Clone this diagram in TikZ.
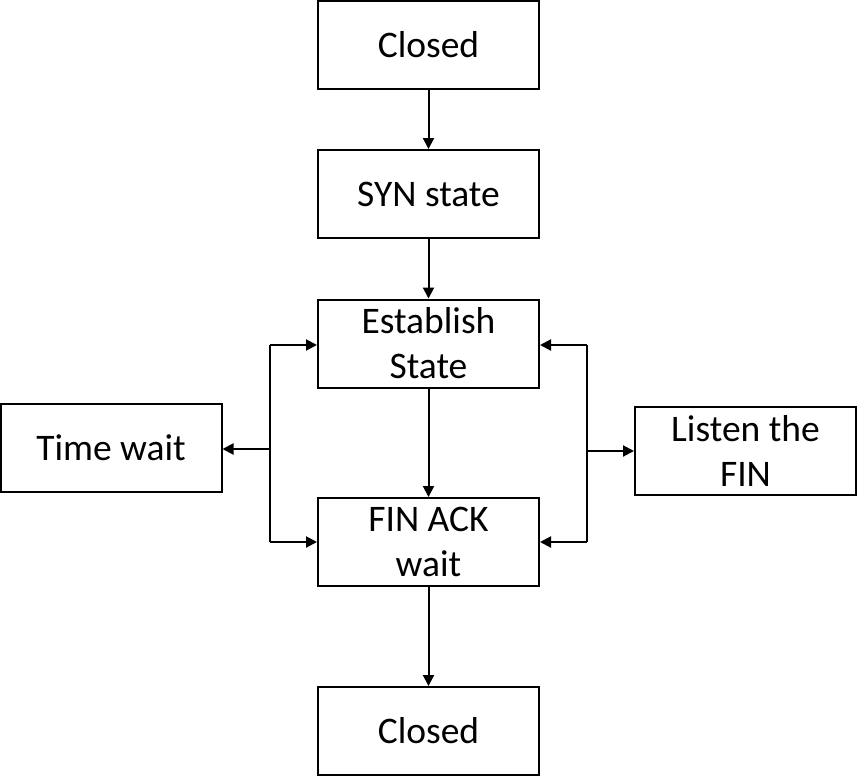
\documentclass[tikz,border=0pt]{standalone}
\usepackage{fontspec}
\setmainfont{Carlito}
\usetikzlibrary{arrows.meta}
\begin{document}
\begin{tikzpicture}[x=1pt,y=-1pt,
  box/.style={draw=black,line width=2pt,minimum width=221pt,minimum height=88pt,align=center,inner sep=0pt,
    font=\fontsize{37.5}{45}\selectfont},
  conn/.style={line width=2pt,-{Triangle[length=11pt,width=11pt]}},
  wire/.style={line width=2pt}]
\useasboundingbox (0,0) rectangle (857,777);
\node[box] (c1) at (428.5,45) {Closed};
\node[box] (syn) at (428.5,194) {SYN state};
\node[box] (est) at (428.5,343.5) {Establish\\State};
\node[box] (fin) at (428.5,542) {FIN ACK\\wait};
\node[box] (c2) at (428.5,731) {Closed};
\node[box] (tw) at (111,448) {Time wait};
\node[box] (lf) at (745.5,450.5) {Listen the\\FIN};
\coordinate (lt) at (270,345);
\coordinate (lm) at (270,449);
\coordinate (lb) at (270,542);
\coordinate (rt) at (587,345);
\coordinate (rm) at (587,451);
\coordinate (rb) at (587,542);
\draw[conn] (c1) -- (syn);
\draw[conn] (syn) -- (est);
\draw[conn] (est) -- (fin);
\draw[conn] (fin) -- (c2);
\draw[wire] (lt) -- (lb);
\draw[conn] (lt) -- (lt -| est.west);
\draw[conn] (lb) -- (lb -| fin.west);
\draw[conn] (lm) -- (lm -| tw.east);
\draw[wire] (rt) -- (rb);
\draw[conn] (rt) -- (rt -| est.east);
\draw[conn] (rb) -- (rb -| fin.east);
\draw[conn] (rm) -- (rm -| lf.west);
\end{tikzpicture}
\end{document}
